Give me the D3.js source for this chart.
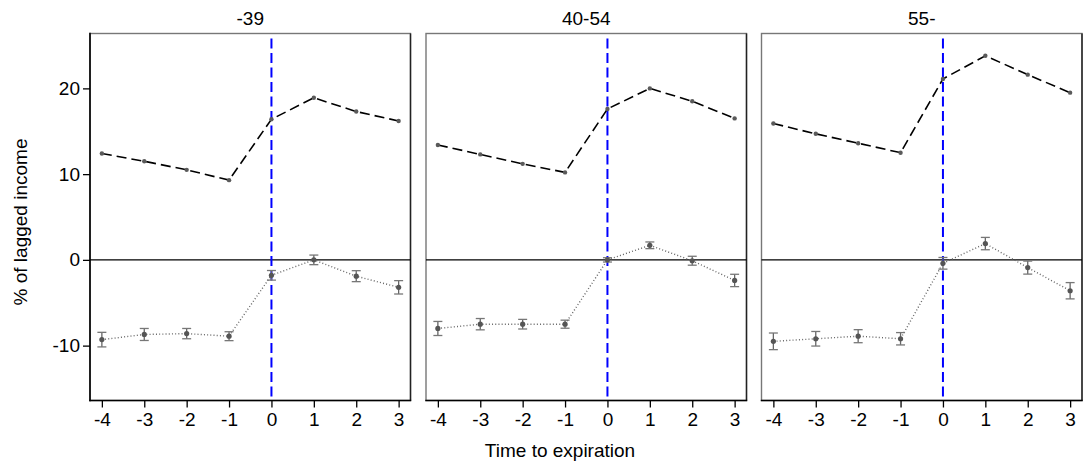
<!DOCTYPE html>
<html>
<head>
<meta charset="utf-8">
<script src="https://cdn.jsdelivr.net/npm/d3@7"></script>
<style>
  body { margin: 0; background: #fff; }
  svg text { font-family: "Liberation Sans", Arial, sans-serif; fill: #000; }
</style>
</head>
<body>
<svg id="chart" width="1084" height="466"></svg>
<script>
// age groups (one panel each)
const groups = ["-39", "40-54", "55-"];
// time to expiration
const periods = [-4, -3, -2, -1, 0, 1, 2, 3];
const yTicks = [-10, 0, 10, 20];

// upper dashed series
const upper39 = [12.4, 11.5, 10.5, 9.3, 16.4, 18.9, 17.3, 16.2];
const upper4054 = [13.4, 12.3, 11.2, 10.2, 17.6, 20.0, 18.5, 16.5];
const upper55 = [15.9, 14.7, 13.6, 12.5, 21.1, 23.8, 21.6, 19.5];

// lower dotted series with error bars (half widths)
const lower39 = [-9.3, -8.7, -8.6, -8.9, -1.8, 0.0, -1.9, -3.2];
const lower4054 = [-8.0, -7.5, -7.5, -7.5, 0.0, 1.7, -0.1, -2.4];
const lower55 = [-9.5, -9.2, -8.9, -9.2, -0.4, 1.9, -0.9, -3.6];
const err39 = [0.85, 0.7, 0.6, 0.52, 0.56, 0.56, 0.64, 0.78];
const err4054 = [0.82, 0.66, 0.56, 0.47, 0.25, 0.39, 0.52, 0.72];
const err55 = [0.97, 0.85, 0.76, 0.72, 0.68, 0.72, 0.76, 0.95];

const uppers = [upper39, upper4054, upper55];
const lowers = [lower39, lower4054, lower55];
const errs = [err39, err4054, err55];

const svg = d3.select("#chart");
const panelLeft = [90, 426, 761.5];
const panelW = 320.5;
const plotTop = 33.5, plotBottom = 400.5;

const y = d3.scaleLinear().domain([-16.4, 26.4]).range([plotBottom, plotTop]);
const fmt = (d) => String(d); // plain hyphen for negatives

groups.forEach((g, i) => {
  const x = d3.scaleLinear()
    .domain([-4.28, 3.28])
    .range([panelLeft[i], panelLeft[i] + panelW]);
  const p = svg.append("g");

  // frame
  p.append("rect")
    .attr("x", panelLeft[i]).attr("y", plotTop)
    .attr("width", panelW).attr("height", plotBottom - plotTop)
    .attr("fill", "none").attr("stroke", "#777").attr("stroke-width", 1.4);
  p.append("line")
    .attr("x1", panelLeft[i] + panelW).attr("x2", panelLeft[i] + panelW)
    .attr("y1", plotTop).attr("y2", plotBottom)
    .attr("stroke", "#222").attr("stroke-width", 1.4);

  // title
  p.append("text")
    .attr("x", panelLeft[i] + panelW / 2).attr("y", 25)
    .attr("text-anchor", "middle").attr("font-size", 19)
    .text(g);

  // x axis
  const xa = p.append("g")
    .attr("transform", `translate(0,${plotBottom})`)
    .call(d3.axisBottom(x).tickValues(periods).tickFormat(fmt)
      .tickSize(7).tickPadding(5).tickSizeOuter(0));
  xa.select(".domain").remove();
  xa.selectAll(".tick line").attr("stroke", "#000").attr("stroke-width", 1.3);
  xa.selectAll(".tick text").attr("font-size", 19);
  p.append("line")
    .attr("x1", panelLeft[i] - 0.7).attr("x2", panelLeft[i] + panelW + 0.7)
    .attr("y1", plotBottom).attr("y2", plotBottom)
    .attr("stroke", "#000").attr("stroke-width", 1.6);

  if (i === 0) {
    const ya = p.append("g")
      .attr("transform", `translate(${panelLeft[i]},0)`)
      .call(d3.axisLeft(y).tickValues(yTicks).tickFormat(fmt)
        .tickSize(7).tickPadding(3).tickSizeOuter(0));
    ya.select(".domain").remove();
    ya.selectAll(".tick line").attr("stroke", "#000").attr("stroke-width", 1.3);
    ya.selectAll(".tick text").attr("font-size", 19);
    p.append("line")
      .attr("x1", panelLeft[i]).attr("x2", panelLeft[i])
      .attr("y1", plotTop - 0.7).attr("y2", plotBottom + 0.7)
      .attr("stroke", "#000").attr("stroke-width", 1.6);
  }

  // zero line
  p.append("line")
    .attr("x1", panelLeft[i]).attr("x2", panelLeft[i] + panelW)
    .attr("y1", y(0)).attr("y2", y(0))
    .attr("stroke", "#000").attr("stroke-width", 1.4);

  // vertical blue line at 0
  p.append("line")
    .attr("x1", x(0)).attr("x2", x(0))
    .attr("y1", plotTop + 5).attr("y2", plotBottom)
    .attr("stroke", "#0000ff").attr("stroke-width", 2)
    .attr("stroke-dasharray", "10,4.5");

  const upData = periods.map((t, k) => ({ t: t, v: uppers[i][k] }));
  const lowData = periods.map((t, k) => ({ t: t, v: lowers[i][k], e: errs[i][k] }));
  const line = d3.line().x((d) => x(d.t)).y((d) => y(d.v));

  // upper series
  p.append("path").datum(upData)
    .attr("fill", "none").attr("stroke", "#000").attr("stroke-width", 1.6)
    .attr("stroke-dasharray", "10,5").attr("d", line);
  p.selectAll(".up").data(upData).enter().append("circle")
    .attr("cx", (d) => x(d.t)).attr("cy", (d) => y(d.v))
    .attr("r", 2.2).attr("fill", "#5a5a5a");

  // lower series
  p.append("path").datum(lowData)
    .attr("fill", "none").attr("stroke", "#666").attr("stroke-width", 1.4)
    .attr("stroke-dasharray", "1,2.2").attr("d", line);
  const eb = p.selectAll(".eb").data(lowData).enter().append("g");
  eb.append("line")
    .attr("x1", (d) => x(d.t)).attr("x2", (d) => x(d.t))
    .attr("y1", (d) => y(d.v - d.e)).attr("y2", (d) => y(d.v + d.e))
    .attr("stroke", "#666").attr("stroke-width", 1.3);
  eb.append("line")
    .attr("x1", (d) => x(d.t) - 4.5).attr("x2", (d) => x(d.t) + 4.5)
    .attr("y1", (d) => y(d.v - d.e)).attr("y2", (d) => y(d.v - d.e))
    .attr("stroke", "#777").attr("stroke-width", 1.3);
  eb.append("line")
    .attr("x1", (d) => x(d.t) - 4.5).attr("x2", (d) => x(d.t) + 4.5)
    .attr("y1", (d) => y(d.v + d.e)).attr("y2", (d) => y(d.v + d.e))
    .attr("stroke", "#777").attr("stroke-width", 1.3);
  eb.append("circle")
    .attr("cx", (d) => x(d.t)).attr("cy", (d) => y(d.v))
    .attr("r", 2.6).attr("fill", "#555");
});

// axis titles
svg.append("text")
  .attr("x", 560).attr("y", 457)
  .attr("text-anchor", "middle").attr("font-size", 19)
  .text("Time to expiration");
svg.append("text")
  .attr("transform", "translate(27,222) rotate(-90)")
  .attr("text-anchor", "middle").attr("font-size", 19)
  .text("% of lagged income");
</script>
</body>
</html>
